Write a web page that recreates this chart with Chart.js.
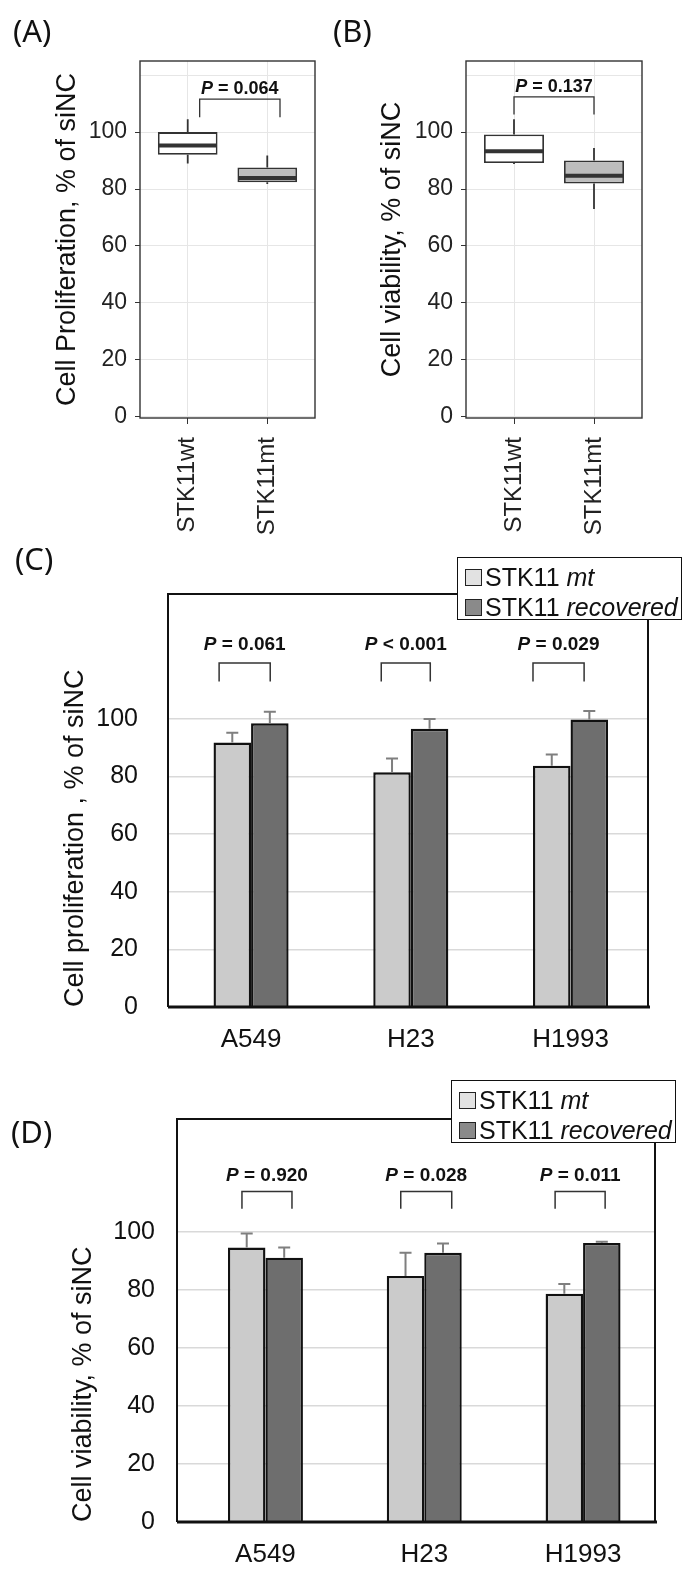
<!DOCTYPE html>
<html>
<head>
<meta charset="utf-8">
<title>STK11 proliferation and viability</title>
<script src="https://cdn.jsdelivr.net/npm/chart.js@4.4.1/dist/chart.umd.min.js"></script>
<style>
  body { margin: 0; background: #fff; }
  #fig { position: relative; width: 698px; height: 1579px; font-family: 'Liberation Sans', Arial, sans-serif; }
  #fig canvas { position: absolute; }
  .panel-tag { position: absolute; font-family: 'Noto Sans', sans-serif; font-size: 31px; line-height: 31px; color: #111; }
  .legend { position: absolute; width: 225px; height: 63px; box-sizing: border-box; border: 1.5px solid #111; background: #fff; z-index: 2; }
  .legend-row { position: absolute; left: 7px; height: 30px; display: flex; align-items: center; font-size: 25px; color: #111; white-space: nowrap; }
  .legend-swatch { width: 15px; height: 15px; border: 1.5px solid #222; margin-right: 3px; }
</style>
</head>
<body>
<div id="fig">
  <canvas id="chartA" width="330" height="545" style="left:0;top:0"></canvas>
  <canvas id="chartB" width="368" height="545" style="left:330px;top:0"></canvas>
  <canvas id="chartC" width="698" height="520" style="left:0;top:540px"></canvas>
  <canvas id="chartD" width="698" height="519" style="left:0;top:1060px"></canvas>
  <div class="panel-tag" style="left:13px;top:15px">(A)</div>
  <div class="panel-tag" style="left:333px;top:15px">(B)</div>
  <div class="panel-tag" style="left:15px;top:543px">(C)</div>
  <div class="panel-tag" style="left:11px;top:1116px">(D)</div>
  <div class="legend" id="legendC" style="left:457px;top:557px"></div>
  <div class="legend" id="legendD" style="left:451px;top:1080px"></div>
</div>
<script>
// ---------- data ----------
const boxCategories = ['STK11wt', 'STK11mt'];

// (A) cell proliferation, box plot
const prolBoxMin = [89.0, 81.8];
const prolBoxQ1 = [92.0, 82.4];
const prolBoxMedian = [95.3, 83.9];
const prolBoxQ3 = [100.0, 87.6];
const prolBoxMax = [104.5, 91.8];
const prolBoxP = '= 0.064';

// (B) cell viability, box plot
const viabBoxMin = [88.8, 73.0];
const viabBoxQ1 = [89.1, 81.9];
const viabBoxMedian = [93.3, 84.7];
const viabBoxQ3 = [99.2, 90.0];
const viabBoxMax = [104.5, 94.4];
const viabBoxP = '= 0.137';

// (C) / (D) bar charts
const cellLines = ['A549', 'H23', 'H1993'];
const seriesTags = ['mt', 'recovered'];

const prolMt = [91.8, 81.5, 83.8];
const prolMtErr = [3.4, 4.8, 3.9];
const prolRec = [98.5, 96.6, 99.8];
const prolRecErr = [4.0, 3.4, 3.0];
const prolP = ['= 0.061', '< 0.001', '= 0.029'];

const viabMt = [94.6, 84.8, 78.7];
const viabMtErr = [4.8, 8.0, 3.3];
const viabRec = [91.1, 92.8, 96.2];
const viabRecErr = [3.5, 3.2, 0.4];
const viabP = ['= 0.920', '= 0.028', '= 0.011'];

const boxTicks = [0, 10, 20, 30, 40, 50, 60, 70, 80, 90, 100, 110, 120];
const barTicks = [0, 20, 40, 60, 80, 100];

// ---------- helpers ----------
const FAMILY = "'Liberation Sans', Arial, sans-serif";
Chart.defaults.font.family = FAMILY;

const mtFill = '#cbcbcb';
const recFill = '#6e6e6e';

function drawBracket(chart, b, st) {
    const ctx = chart.ctx;
    const xs = chart.scales.x, ys = chart.scales.y;
    const x1 = xs.getPixelForValue(b.from);
    const x2 = xs.getPixelForValue(b.to);
    const yTop = ys.getPixelForValue(b.top);
    const yEnd = ys.getPixelForValue(b.bottom);
    ctx.save();
    ctx.strokeStyle = st.color;
    ctx.lineWidth = st.width;
    ctx.beginPath();
    ctx.moveTo(x1, yEnd);
    ctx.lineTo(x1, yTop);
    ctx.lineTo(x2, yTop);
    ctx.lineTo(x2, yEnd);
    ctx.stroke();

    // "P" italic bold, rest bold
    const pFont = 'italic bold ' + st.fontSize + 'px ' + FAMILY;
    const restFont = 'bold ' + st.fontSize + 'px ' + FAMILY;
    const rest = ' ' + b.text;
    ctx.font = pFont;
    const wP = ctx.measureText('P').width;
    ctx.font = restFont;
    const wR = ctx.measureText(rest).width;
    const cx = (x1 + x2) / 2;
    const ty = ys.getPixelForValue(b.textY);
    const sx = cx - (wP + wR) / 2;
    ctx.fillStyle = '#111';
    ctx.textAlign = 'left';
    ctx.textBaseline = 'middle';
    ctx.font = pFont;
    ctx.fillText('P', sx, ty);
    ctx.font = restFont;
    ctx.fillText(rest, sx + wP, ty);
    ctx.restore();
}

// ggplot-like box plot: box from floating bars, whiskers/median via plugin
function boxPlotChart(canvasId, d) {
    const boxPlugin = {
        id: 'boxParts',
        afterDatasetsDraw(chart) {
            const ctx = chart.ctx;
            const ys = chart.scales.y;
            const meta = chart.getDatasetMeta(0);
            ctx.save();
            ctx.strokeStyle = '#333';
            meta.data.forEach((bar, i) => {
                const half = bar.width / 2;
                ctx.lineWidth = 1.8;
                ctx.beginPath();
                ctx.moveTo(bar.x, ys.getPixelForValue(d.q3[i]));
                ctx.lineTo(bar.x, ys.getPixelForValue(d.max[i]));
                ctx.moveTo(bar.x, ys.getPixelForValue(d.q1[i]));
                ctx.lineTo(bar.x, ys.getPixelForValue(d.min[i]));
                ctx.stroke();
                const ym = ys.getPixelForValue(d.median[i]);
                ctx.lineWidth = 4;
                ctx.beginPath();
                ctx.moveTo(bar.x - half + 1, ym);
                ctx.lineTo(bar.x + half - 1, ym);
                ctx.stroke();
            });
            const a = chart.chartArea;
            ctx.lineWidth = 1.4;
            ctx.strokeRect(a.left, a.top, a.right - a.left, a.bottom - a.top);
            ctx.restore();
            drawBracket(chart, d.bracket, { color: '#333', width: 1.3, fontSize: 18 });
        }
    };

    const labeled = v => v % 20 === 0 && v <= 100;

    return new Chart(document.getElementById(canvasId), {
        type: 'bar',
        data: {
            datasets: [{
                data: d.q1.map((q, i) => ({ x: i + 1, y: [q, d.q3[i]] })),
                backgroundColor: ['#ffffff', '#bdbdbd'],
                borderColor: '#333',
                borderWidth: 1.8,
                borderSkipped: false,
                categoryPercentage: 0.75,
                barPercentage: 1
            }]
        },
        options: {
            animation: false,
            responsive: false,
            devicePixelRatio: 1,
            layout: { padding: { top: 61, right: d.padRight, left: 0, bottom: 0 } },
            plugins: { legend: { display: false }, tooltip: { enabled: false } },
            scales: {
                x: {
                    type: 'linear',
                    min: 0.4,
                    max: 2.6,
                    bounds: 'data',
                    offset: false,
                    afterBuildTicks: s => { s.ticks = [1, 2].map(v => ({ value: v })); },
                    afterFit: s => { s.height = 127; },
                    grid: { color: '#e6e6e6', lineWidth: 1, offset: false, tickColor: '#333', tickLength: 6 },
                    border: { display: false },
                    ticks: {
                        minRotation: 90,
                        maxRotation: 90,
                        padding: 13,
                        color: '#222',
                        font: { size: 24 },
                        callback: v => boxCategories[v - 1]
                    }
                },
                y: {
                    min: -0.5,
                    max: 125,
                    afterBuildTicks: s => { s.ticks = boxTicks.map(v => ({ value: v })); },
                    afterFit: s => { s.width = d.axisWidth; },
                    grid: {
                        color: '#e6e6e6',
                        lineWidth: 1,
                        tickLength: 5,
                        tickColor: c => (c.tick && labeled(c.tick.value)) ? '#333' : 'rgba(0,0,0,0)'
                    },
                    border: { display: false },
                    ticks: {
                        padding: 8,
                        color: '#222',
                        font: { size: 23 },
                        callback: v => labeled(v) ? String(v) : ''
                    },
                    title: {
                        display: true,
                        text: d.title,
                        color: '#111',
                        font: { size: 27 },
                        padding: { top: d.titlePad, bottom: 0 }
                    }
                }
            }
        },
        plugins: [boxPlugin]
    });
}

function barChart(canvasId, d) {
    const extrasPlugin = {
        id: 'barExtras',
        afterDatasetsDraw(chart) {
            const ctx = chart.ctx;
            const ys = chart.scales.y;
            ctx.save();
            // error bars (upper only)
            ctx.strokeStyle = '#7f7f7f';
            ctx.lineWidth = 2;
            [d.mtErr, d.recErr].forEach((errs, di) => {
                const vals = di === 0 ? d.mt : d.rec;
                chart.getDatasetMeta(di).data.forEach((bar, i) => {
                    const yTop = ys.getPixelForValue(vals[i] + errs[i]);
                    ctx.beginPath();
                    ctx.moveTo(bar.x, bar.y);
                    ctx.lineTo(bar.x, yTop);
                    ctx.moveTo(bar.x - 6, yTop);
                    ctx.lineTo(bar.x + 6, yTop);
                    ctx.stroke();
                });
            });
            // frame
            const a = chart.chartArea;
            ctx.strokeStyle = '#111';
            ctx.lineWidth = 2;
            ctx.beginPath();
            ctx.moveTo(a.left, a.bottom);
            ctx.lineTo(a.left, a.top);
            ctx.lineTo(a.right, a.top);
            ctx.lineTo(a.right, a.bottom);
            ctx.stroke();
            ctx.lineWidth = 3;
            ctx.beginPath();
            ctx.moveTo(a.left, a.bottom);
            ctx.lineTo(a.right + 2, a.bottom);
            ctx.stroke();
            ctx.restore();
            d.brackets.forEach(b => drawBracket(chart, b, { color: '#333', width: 1.5, fontSize: 19 }));
        }
    };

    return new Chart(document.getElementById(canvasId), {
        type: 'bar',
        data: {
            datasets: [
                {
                    label: 'STK11 ' + seriesTags[0],
                    data: d.mt.map((v, i) => ({ x: i, y: v })),
                    backgroundColor: mtFill,
                    borderColor: '#111',
                    borderWidth: 2.4
                },
                {
                    label: 'STK11 ' + seriesTags[1],
                    data: d.rec.map((v, i) => ({ x: i, y: v })),
                    backgroundColor: recFill,
                    borderColor: '#111',
                    borderWidth: 2.4
                }
            ]
        },
        options: {
            animation: false,
            responsive: false,
            devicePixelRatio: 1,
            layout: { padding: { top: d.padTop, right: d.padRight, left: 0, bottom: 0 } },
            datasets: { bar: { categoryPercentage: d.catPct, barPercentage: 1 } },
            plugins: { legend: { display: false }, tooltip: { enabled: false } },
            scales: {
                x: {
                    type: 'linear',
                    min: d.xMin,
                    max: d.xMax,
                    bounds: 'data',
                    offset: false,
                    afterBuildTicks: s => { s.ticks = cellLines.map((c, i) => ({ value: i })); },
                    afterFit: s => { s.height = d.xAxisHeight; },
                    grid: { display: false, drawTicks: false, offset: false },
                    border: { display: false },
                    ticks: {
                        padding: 17,
                        maxRotation: 0,
                        color: '#111',
                        font: { size: 26 },
                        callback: v => cellLines[v]
                    }
                },
                y: {
                    min: 0,
                    max: d.yMax,
                    afterBuildTicks: s => { s.ticks = barTicks.map(v => ({ value: v })); },
                    afterFit: s => { s.width = d.axisWidth; },
                    grid: {
                        color: c => (c.tick && c.tick.value === 0) ? 'rgba(0,0,0,0)' : '#d9d9d9',
                        lineWidth: 1.6,
                        drawTicks: false
                    },
                    border: { display: false },
                    ticks: { padding: d.tickPad, color: '#111', font: { size: 25 } },
                    title: {
                        display: true,
                        text: d.title,
                        align: 'start',
                        color: '#111',
                        font: { size: 27 },
                        padding: { top: d.titlePad, bottom: 0 }
                    }
                }
            }
        },
        plugins: [extrasPlugin]
    });
}

function buildLegend(id) {
    const box = document.getElementById(id);
    const fills = ['#e2e2e2', '#8a8a8a'];
    seriesTags.forEach((tag, i) => {
        const row = document.createElement('div');
        row.className = 'legend-row';
        row.style.top = (4 + i * 30) + 'px';
        const sw = document.createElement('span');
        sw.className = 'legend-swatch';
        sw.style.background = fills[i];
        const txt = document.createElement('span');
        txt.innerHTML = 'STK11 <i>' + tag + '</i>';
        row.appendChild(sw);
        row.appendChild(txt);
        box.appendChild(row);
    });
}

// ---------- charts ----------
boxPlotChart('chartA', {
    min: prolBoxMin, q1: prolBoxQ1, median: prolBoxMedian, q3: prolBoxQ3, max: prolBoxMax,
    title: 'Cell Proliferation, % of siNC',
    axisWidth: 140, padRight: 15, titlePad: 51,
    bracket: { from: 1.15, to: 2.16, top: 111.6, bottom: 105.2, textY: 115.2, text: prolBoxP }
});

boxPlotChart('chartB', {
    min: viabBoxMin, q1: viabBoxQ1, median: viabBoxMedian, q3: viabBoxQ3, max: viabBoxMax,
    title: 'Cell viability, % of siNC',
    axisWidth: 136, padRight: 56, titlePad: 46,
    bracket: { from: 1.0, to: 2.0, top: 112.4, bottom: 106.2, textY: 115.9, text: viabBoxP }
});

const prolBracketX = [[-0.2, 0.12], [-0.185, 0.122], [-0.235, 0.085]];
barChart('chartC', {
    mt: prolMt, mtErr: prolMtErr, rec: prolRec, recErr: prolRecErr,
    title: 'Cell proliferation , % of siNC',
    axisWidth: 168, padTop: 54, padRight: 50, xAxisHeight: 53,
    xMin: -0.52, xMax: 2.485, yMax: 143.4, catPct: 0.47,
    tickPad: 30, titlePad: 59,
    brackets: prolP.map((t, i) => ({
        from: i + prolBracketX[i][0], to: i + prolBracketX[i][1],
        top: 119.4, bottom: 113.0, textY: 125.7, text: t
    }))
});

const viabBracketX = [[-0.148, 0.167], [-0.148, 0.173], [-0.176, 0.139]];
barChart('chartD', {
    mt: viabMt, mtErr: viabMtErr, rec: viabRec, recErr: viabRecErr,
    title: 'Cell viability, % of siNC',
    axisWidth: 177, padTop: 59, padRight: 43, xAxisHeight: 57,
    xMin: -0.557, xMax: 2.453, yMax: 138.9, catPct: 0.472,
    tickPad: 22, titlePad: 67,
    brackets: viabP.map((t, i) => ({
        from: i + viabBracketX[i][0], to: i + viabBracketX[i][1],
        top: 113.9, bottom: 108.0, textY: 119.5, text: t
    }))
});

buildLegend('legendC');
buildLegend('legendD');
</script>
</body>
</html>
